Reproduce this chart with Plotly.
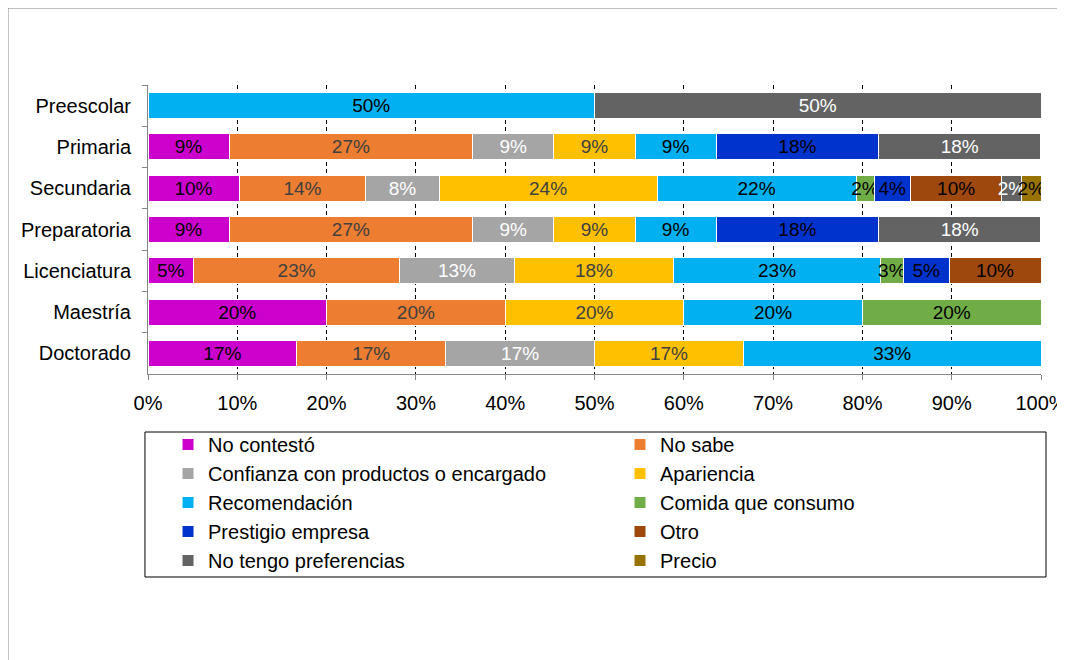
import plotly.graph_objects as go

# Categories (top to bottom) and answer shares (%)
niveles = ['Preescolar', 'Primaria', 'Secundaria', 'Preparatoria',
           'Licenciatura', 'Maestría', 'Doctorado']

no_contesto = [None, 9.09, 10.2, 9.09, 5.1, 20, 16.67]
no_sabe = [None, 27.27, 14.2, 27.27, 23.1, 20, 16.67]
confianza = [None, 9.09, 8.2, 9.09, 12.8, None, 16.67]
apariencia = [None, 9.09, 24.4, 9.09, 17.9, 20, 16.67]
recomendacion = [50, 9.09, 22.3, 9.09, 23.1, 20, 33.32]
comida = [None, None, 2.0, None, 2.6, 20, None]
prestigio = [None, 18.18, 4.1, 18.18, 5.1, None, None]
otro = [None, None, 10.2, None, 10.3, None, None]
no_tengo = [50, 18.18, 2.2, 18.18, None, None, None]
precio = [None, None, 2.2, None, None, None, None]

x_ticks = [0, 10, 20, 30, 40, 50, 60, 70, 80, 90, 100]
x_tick_text = [f'{t}%' for t in x_ticks]

# name, values, bar colour, label colour, legend column
SERIES = [
    ('No contestó', no_contesto, '#CC00CC', '#000000', 'legend'),
    ('No sabe', no_sabe, '#ED7D31', '#404040', 'legend2'),
    ('Confianza con productos o encargado', confianza, '#A5A5A5', '#FFFFFF', 'legend'),
    ('Apariencia', apariencia, '#FFC000', '#404040', 'legend2'),
    ('Recomendación', recomendacion, '#00B0F0', '#000000', 'legend'),
    ('Comida que consumo', comida, '#70AD47', '#000000', 'legend2'),
    ('Prestigio empresa', prestigio, '#0033CC', '#000000', 'legend'),
    ('Otro', otro, '#9E480E', '#000000', 'legend2'),
    ('No tengo preferencias', no_tengo, '#636363', '#FFFFFF', 'legend'),
    ('Precio', precio, '#997300', '#000000', 'legend2'),
]

FONT = 'Liberation Sans, Arial, sans-serif'

fig = go.Figure()
for name, vals, color, txt_color, leg in SERIES:
    fig.add_trace(go.Bar(
        name=name,
        y=niveles,
        x=vals,
        orientation='h',
        marker=dict(color=color, line=dict(color='white', width=1)),
        texttemplate='%{x:.0f}%',
        textposition='inside',
        insidetextanchor='middle',
        textangle=0,
        textfont=dict(color=txt_color, size=19, family=FONT),
        hoverinfo='skip',
        legend=leg,
    ))

legend_style = dict(
    orientation='v',
    xref='container',
    y=-0.1765,
    xanchor='left',
    yanchor='top',
    bgcolor='rgba(0,0,0,0)',
    font=dict(size=20, family=FONT),
    traceorder='normal',
)

# page body adds an 8px offset, so the figure is 1057x652
fig.update_layout(
    width=1057,
    height=652,
    barmode='stack',
    bargap=0.37,
    plot_bgcolor='white',
    paper_bgcolor='white',
    font=dict(family=FONT, size=20, color='black'),
    margin=dict(l=140, r=24, t=77, b=286, autoexpand=False),
    uniformtext=dict(minsize=19, mode='show'),
    xaxis=dict(
        range=[0, 100],
        tickmode='array',
        tickvals=x_ticks,
        ticktext=x_tick_text,
        showgrid=True,
        gridcolor='black',
        gridwidth=1,
        griddash='4px,3px',
        zeroline=False,
        showline=True,
        linecolor='#868686',
        ticks='outside',
        ticklen=5,
        tickcolor='#868686',
        ticklabelstandoff=6,
        ticklabeloverflow='allow',
        fixedrange=True,
    ),
    yaxis=dict(
        autorange='reversed',
        showline=True,
        linecolor='#868686',
        ticks='outside',
        tickson='boundaries',
        ticklen=5,
        tickcolor='#868686',
        ticklabelstandoff=12,
        fixedrange=True,
    ),
    legend=dict(legend_style, x=0.1514),
    legend2=dict(legend_style, x=0.579),
    shapes=[
        # outer frame
        dict(type='rect', xref='paper', yref='paper',
             x0=-0.1568, x1=1.038, y0=-1.024, y1=1.2664,
             line=dict(color='#7F7F7F', width=1), layer='below'),
        # legend box
        dict(type='rect', xref='paper', yref='paper',
             x0=-0.0034, x1=1.0056, y0=-0.7024, y1=-0.2007,
             line=dict(color='black', width=1)),
    ],
)

fig.write_html('out.html')
